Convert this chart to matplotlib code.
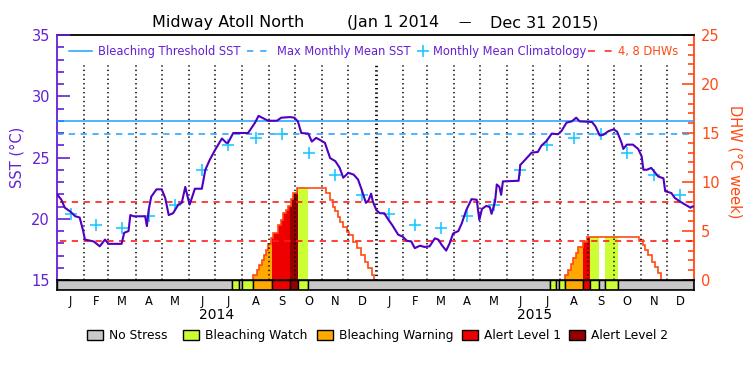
import numpy as np
import matplotlib
matplotlib.use("Agg")
import matplotlib.pyplot as plt
from matplotlib.lines import Line2D
from matplotlib.patches import Rectangle
import matplotlib.transforms as mtransforms

plt.rcParams['font.family'] = ['DejaVu Sans']
plt.rcParams['lines.scale_dashes'] = False

# ---------------- data ----------------
title_site = "Midway Atoll North"
title_from = "(Jan 1 2014"
title_dash = "\u2014"
title_to = "Dec 31 2015)"
years = ["2014", "2015"]
month_letters = ["J", "F", "M", "A", "M", "J", "J", "A", "S", "O", "N", "D"]

# daily SST trace (day from 2014-01-01, degC)
sst_day = [0, 5, 9, 15, 21, 26, 30, 32, 42, 49, 55, 59, 74, 77, 82, 84, 88, 101, 103, 105,
           108, 114, 120, 124, 128, 133, 139, 143, 147, 150, 152, 155, 158, 166, 170, 175,
           181, 189, 194, 196, 202, 212, 219, 227, 231, 235, 242, 252, 257, 267, 272, 276,
           280, 288, 292, 297, 301, 307, 313, 319, 324, 328, 334, 340, 345, 349, 354, 357,
           360, 362, 366, 370, 375, 380, 384, 391, 396, 401, 406, 410, 416, 421, 427, 433,
           437, 441, 446, 450, 454, 460, 464, 469, 475, 481, 484, 487, 492, 496, 498, 502,
           504, 507, 509, 511, 529, 531, 535, 542, 544, 551, 555, 561, 567, 574, 578, 584,
           590, 595, 599, 613, 617, 622, 626, 632, 638, 642, 647, 649, 653, 660, 666, 670,
           672, 676, 681, 685, 689, 695, 697, 704, 708, 714, 720, 726, 728, 730]
sst_val = [22.0, 21.55, 20.9, 20.6, 20.2, 20.1, 19.0, 18.3, 18.15, 17.75, 18.3, 17.95, 17.95,
           18.85, 19.0, 20.3, 20.2, 20.2, 19.4, 20.7, 21.8, 22.4, 22.4, 21.7, 20.3, 20.45,
           21.15, 21.3, 22.6, 21.7, 21.15, 21.8, 22.45, 22.45, 24.0, 24.8, 25.6, 26.55, 26.2,
           26.2, 27.0, 27.0, 27.0, 27.85, 28.4, 28.25, 28.0, 28.0, 28.25, 28.3, 28.25, 27.95,
           27.0, 26.95, 26.3, 26.6, 26.45, 26.2, 24.95, 24.7, 24.15, 23.35, 23.75, 23.6, 23.2,
           22.4, 21.3, 21.5, 22.05, 21.4, 20.7, 20.45, 20.45, 19.9, 19.5, 18.7, 18.55, 18.2,
           18.15, 17.6, 17.8, 17.7, 17.75, 18.4, 18.3, 17.85, 17.4, 18.0, 18.8, 19.0, 19.65,
           20.7, 21.6, 21.55, 19.9, 20.8, 21.05, 20.95, 20.4, 21.4, 22.8, 22.6, 21.95, 23.05,
           23.1, 24.4, 24.7, 25.25, 25.4, 25.45, 25.95, 26.35, 26.95, 26.9, 27.15, 27.85,
           27.95, 28.25, 27.95, 27.9, 27.55, 26.8, 26.85, 27.15, 27.3, 27.1, 26.2, 25.7, 26.05,
           26.05, 25.7, 25.1, 24.0, 24.0, 24.15, 23.8, 23.45, 23.3, 22.25, 22.1, 21.7, 21.4,
           21.15, 20.9, 21.0, 21.0]

# monthly mean climatology (Jan..Dec)
clim_val = [20.4, 19.45, 19.25, 20.25, 21.15, 23.95, 26.0, 26.6, 26.95, 25.4, 23.6, 21.95]
bleaching_threshold = 27.95
max_monthly_mean = 26.95
dhw_levels = [4, 8]

# degree heating weeks (step changes)
dhw_day = [0, 225, 228.8, 231.9, 234.6, 237.2, 239.1, 242.2, 244.8, 247.9, 253.6, 256.4, 259.3,
           262.4, 265.1, 267.8, 270.8, 274.7, 308.3, 312.9, 315.9, 318.6, 321.6, 324.3, 328.1,
           332, 335, 339.6, 343.4, 348.4, 353, 356.8, 360.6, 363.3, 582.2, 586, 588.7, 591.7,
           594.8, 597.4, 602.4, 607.7, 667.3, 671.2, 673.8, 677.6, 681.5, 685.3, 689.1, 691.8, 730]
dhw_val = [0, 0.5, 1.0, 1.5, 2.0, 2.55, 3.1, 3.7, 4.25, 4.75, 5.6, 6.1, 6.8, 7.15, 7.55, 8.3,
           8.85, 9.4, 8.85, 8.2, 7.5, 7.0, 6.45, 5.95, 5.45, 4.9, 4.6, 3.9, 3.25, 2.55, 1.85, 1.2,
           0.5, 0, 0.5, 1.0, 1.6, 2.2, 2.8, 3.4, 3.9, 4.4, 4.1, 3.55, 3.05, 2.55, 1.85, 1.35, 0.7,
           0, 0]

# bleaching alert status runs
status_start = [0, 201, 208, 212, 225, 246, 267, 276.5, 288, 565, 572, 575.5, 582.2, 602.7,
                610.8, 621.5, 628, 643.3]
status_end = [201, 208, 212, 225, 246, 267, 276.5, 288, 565, 572, 575.5, 582.2, 602.7, 610.8,
              621.5, 628, 643.3, 730]
status_level = [0, 1, 0, 1, 2, 3, 4, 1, 0, 1, 0, 1, 2, 3, 1, 0, 1, 0]
status_names = ["No Stress", "Bleaching Watch", "Bleaching Warning", "Alert Level 1", "Alert Level 2"]
status_colors = ['#c8c8c8', '#ccff33', '#ffa800', '#ee0000', '#960000']

# ---------------- style ----------------
C_SST = '#5000c0'
C_AXL = '#6420d2'
C_BLUE = '#1aa0ff'
C_CLIM = '#1ec8ff'
C_RED = '#ff1e1e'
C_DHW = '#ff4a14'

W, H = 750, 375
fig = plt.figure(figsize=(7.5, 3.75), dpi=100)
def fx(p): return p / W
def fy(p): return 1 - p / H

L, R, T, B = 57, 694, 35, 280
ax2 = fig.add_axes([fx(L), fy(B), fx(R - L), fy(T) - fy(B)])   # DHW (right)
ax = fig.add_axes([fx(L), fy(B), fx(R - L), fy(T) - fy(B)], sharex=ax2)  # SST (left)
ax.patch.set_visible(False)
axs = fig.add_axes([fx(L), fy(290), fx(R - L), fy(280) - fy(290)], sharex=ax2)

# calendar
month_starts = (np.arange('2014-01', '2016-02', dtype='datetime64[M]').astype('datetime64[D]')
                - np.datetime64('2014-01-01')).astype(int)
month_mid = (month_starts[:-1] + month_starts[1:]) / 2.0
xmax = month_starts[-1]

ax2.set_xlim(0, xmax)
ax.set_ylim(15, 35)
ax2.set_ylim(0, 25)

# --- DHW fill by status ---
dd = np.array(dhw_day, float)
dv = np.array(dhw_val, float)
def dhw_at(t):
    return dv[np.searchsorted(dd, t, side='right') - 1]
for s, e, lv in zip(status_start, status_end, status_level):
    if lv < 1:
        continue
    xs = np.array(sorted(set([s] + [d for d in dhw_day if s < d < e] + [e])), float)
    ys = dhw_at(xs)
    ys[-1] = ys[-2] if len(ys) > 1 else ys[-1]
    ax2.fill_between(xs, 0, ys, step='post', color=status_colors[lv], lw=0, zorder=1)

# --- DHW step line (only where nonzero) ---
px, py = [], []
for i in range(len(dhw_day) - 1):
    d0, d1, v = dhw_day[i], dhw_day[i + 1], dhw_val[i]
    if v == 0:
        if py and not np.isnan(py[-1]):
            px.append(d0); py.append(0)
        px.append(np.nan); py.append(np.nan)
        px.append(d1); py.append(0)
    else:
        px += [d0, d1]; py += [v, v]
ax2.plot(px, py, color=C_DHW, lw=1.2, zorder=3, solid_joinstyle='miter')

for lvl in dhw_levels:
    ax2.plot([4, xmax], [lvl, lvl], color=C_RED, lw=1.2, ls=(0, (4.5, 4.0)), zorder=2)

# --- month dotted lines ---
for i, d in enumerate(month_starts[1:-1]):
    lw = 2.0 if d == 365 else 1.1
    ax.plot([d, d], [15, 32.6], color='black', lw=lw, ls=(0, (1.0, 2.2)), zorder=2)

# --- SST stuff ---
ax.plot([0, xmax], [bleaching_threshold] * 2, color=C_BLUE, lw=1.1, zorder=3)
ax.plot([0, xmax], [max_monthly_mean] * 2, color=C_BLUE, lw=1.1, ls=(0, (4.5, 4.0)), zorder=3)
ax.plot(month_mid, clim_val * 2, ls='none', marker='+', ms=9, mew=1.2, color=C_CLIM, zorder=4)
ax.plot(sst_day, sst_val, color=C_SST, lw=1.5, zorder=5)

# --- axes styling ---
ax.yaxis.set_major_locator(plt.MultipleLocator(5))
ax.yaxis.set_minor_locator(plt.MultipleLocator(1))
ax.tick_params(axis='y', which='major', direction='in', length=9.4, width=1.2, colors=C_AXL,
               labelsize=10.5, pad=5, left=True, right=False)
ax.tick_params(axis='y', which='minor', direction='in', length=5, width=1.2, colors=C_AXL,
               left=True, right=False)
ax.yaxis.tick_left()
ax2.yaxis.tick_right()
ax2.yaxis.set_major_locator(plt.MultipleLocator(5))
ax2.yaxis.set_minor_locator(plt.MultipleLocator(1))
ax2.tick_params(axis='y', which='major', direction='in', length=8.6, width=1.2, colors=C_DHW,
                labelsize=10.5, pad=5)
ax2.tick_params(axis='y', which='minor', direction='in', length=4.3, width=1.2, colors=C_DHW)
for a in (ax, ax2):
    a.tick_params(axis='x', which='both', bottom=False, top=False, labelbottom=False)
for sp in ax.spines.values():
    sp.set_visible(False)
ax.spines['left'].set_visible(True)
ax.spines['left'].set_color(C_AXL)
ax.spines['left'].set_linewidth(1.3)
ax2.spines['left'].set_visible(False)
ax2.spines['bottom'].set_visible(False)
ax2.spines['right'].set_color(C_DHW)
ax2.spines['right'].set_linewidth(1.3)
ax2.spines['top'].set_color('black')
ax2.spines['top'].set_linewidth(1.3)

# --- status bar ---
axs.set_ylim(0, 1)
for s, e, lv in zip(status_start, status_end, status_level):
    axs.add_patch(Rectangle((s, 0), e - s, 1, facecolor=status_colors[lv], edgecolor='black',
                            lw=1.0))
for sp in axs.spines.values():
    sp.set_linewidth(1.2)
axs.set_yticks([])
axs.set_xticks(month_mid)
axs.set_xticklabels(month_letters * 2, fontsize=8.3)
axs.tick_params(axis='x', length=0, pad=3.5)
btr = mtransforms.blended_transform_factory(axs.transData, fig.transFigure)
for i, yr in enumerate(years):
    axs.text((month_starts[12 * i] + month_starts[12 * i + 12]) / 2, fy(315), yr,
             transform=btr, ha='center', va='center', fontsize=10)

# --- titles and axis labels ---
fig.text(fx(152), fy(23), title_site, fontsize=11.5, ha='left', va='center')
fig.text(fx(347), fy(23), title_from, fontsize=11.5, ha='left', va='center')
fig.text(fx(465), fy(23), title_dash, fontsize=9, ha='center', va='center')
fig.text(fx(598), fy(23), title_to, fontsize=11.5, ha='right', va='center')
fig.text(fx(17), fy(157), "SST (\u00b0C)", rotation=90, color=C_AXL, fontsize=10.5,
         ha='center', va='center')
fig.text(fx(735), fy(162), "DHW (\u00b0C week)", rotation=-90, color=C_DHW, fontsize=10.5,
         ha='center', va='center')

# --- top legend ---
ly = fy(51)
fig.add_artist(Line2D([fx(69), fx(92)], [ly, ly], color=C_BLUE, lw=1.1))
fig.text(fx(98), ly, "Bleaching Threshold SST", color=C_AXL, fontsize=8.3, va='center')
fig.add_artist(Line2D([fx(247), fx(267)], [ly, ly], color=C_BLUE, lw=1.1, ls=(0, (4.5, 5.0))))
fig.text(fx(277), ly, "Max Monthly Mean SST", color=C_AXL, fontsize=8.3, va='center')
fig.add_artist(Line2D([fx(423)], [ly], color=C_CLIM, marker='+', ms=8, mew=1.2, ls='none'))
fig.text(fx(433), ly, "Monthly Mean Climatology", color=C_AXL, fontsize=8.3, va='center')
fig.add_artist(Line2D([fx(588), fx(612)], [ly, ly], color=C_RED, lw=1.1, ls=(0, (5.0, 7.0))))
fig.text(fx(618), ly, "4, 8 DHWs", color=C_DHW, fontsize=8.3, va='center')

# --- bottom legend ---
box_x = [87, 183, 317, 462, 569]
for bx, name, col in zip(box_x, status_names, status_colors):
    fig.add_artist(Rectangle((fx(bx), fy(340)), fx(16), fy(330) - fy(340), facecolor=col,
                             edgecolor='black', lw=1.0, transform=fig.transFigure))
    fig.text(fx(bx + 22), fy(335.5), name, fontsize=8.8, va='center', ha='left')

fig.savefig("out.png", dpi=100)
